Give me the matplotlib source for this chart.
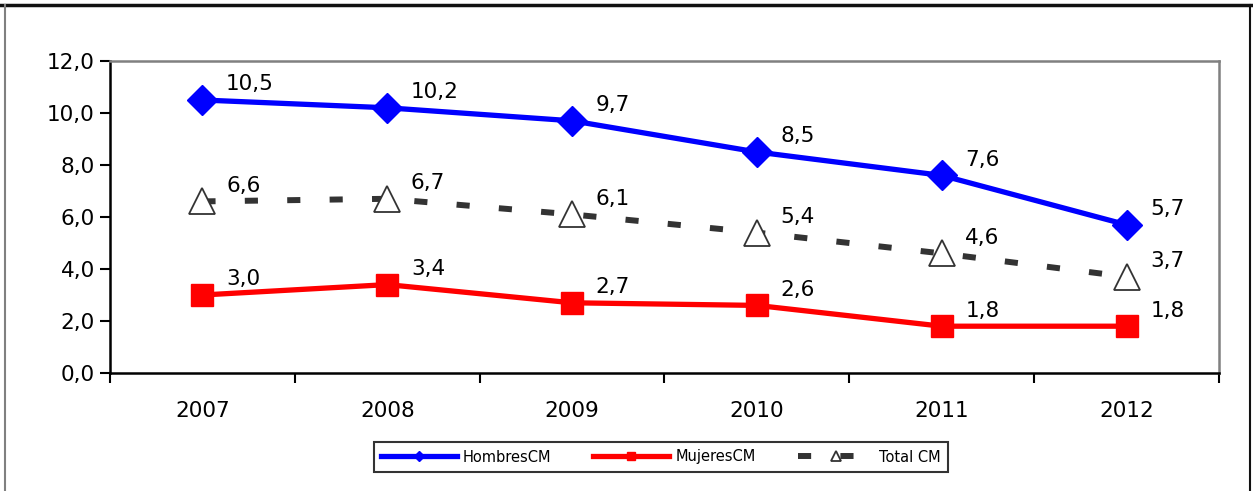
import matplotlib
matplotlib.use("Agg")
import matplotlib.pyplot as plt
from matplotlib.lines import Line2D

years = ["2007", "2008", "2009", "2010", "2011", "2012"]
hombres = [10.5, 10.2, 9.7, 8.5, 7.6, 5.7]
mujeres = [3.0, 3.4, 2.7, 2.6, 1.8, 1.8]
total = [6.6, 6.7, 6.1, 5.4, 4.6, 3.7]
yticks = [0, 2, 4, 6, 8, 10, 12]

plt.rcParams['font.family'] = ['DejaVu Sans']

fig = plt.figure(figsize=(12.53, 4.91), dpi=100)
ax = fig.add_axes([110/1253, 1-373/491, (1219-110)/1253, (373-61)/491])

x = list(range(len(years)))
ax.plot(x, hombres, color='#0000FF', lw=3.8, marker='D', ms=15, mfc='#0000FF',
        mec='#0000FF', label='HombresCM', zorder=3)
ax.plot(x, mujeres, color='#FF0000', lw=3.8, marker='s', ms=16, mfc='#FF0000',
        mec='#FF0000', label='MujeresCM', zorder=3)
ax.plot(x, total, color='#333333', lw=4.3, dashes=(2.2, 4.9), marker='^', ms=19,
        mfc='white', mec='#333333', mew=1.3, label='Total CM', zorder=2)

def fmt(v):
    return f"{v:.1f}".replace('.', ',')

for series in (hombres, mujeres, total):
    for xi, v in zip(x, series):
        ax.annotate(fmt(v), (xi, v), xytext=(17, 4), textcoords='offset points',
                    ha='left', va='bottom', fontsize=15.5, color='black', zorder=5)

ax.set_xlim(-0.5, len(years) - 0.5)
ax.set_ylim(0, 12)
ax.set_yticks(yticks)
ax.set_yticklabels([fmt(v) for v in yticks], fontsize=15.5)
ax.set_xticks(x)
ax.set_xticklabels(years, fontsize=15.5)
ax.set_xticks([i - 0.5 for i in range(len(years) + 1)], minor=True)
ax.tick_params(axis='x', which='major', length=0, pad=20)
ax.tick_params(axis='x', which='minor', length=7, width=1.5, direction='out')
ax.tick_params(axis='y', length=7, width=1.5, direction='out', pad=4)

ax.spines['left'].set_color('black')
ax.spines['left'].set_linewidth(1.8)
ax.spines['bottom'].set_color('black')
ax.spines['bottom'].set_linewidth(1.8)
ax.spines['top'].set_color('#808080')
ax.spines['top'].set_linewidth(1.8)
ax.spines['right'].set_color('#808080')
ax.spines['right'].set_linewidth(1.8)

# outer chart border
fig.add_artist(Line2D([0, 1], [1 - 5/491, 1 - 5/491], color='#111111', lw=2.5,
                      transform=fig.transFigure))
fig.add_artist(Line2D([5/1253, 5/1253], [0, 1 - 5/491], color='#808080', lw=1.5,
                      transform=fig.transFigure))
fig.add_artist(Line2D([1250/1253, 1250/1253], [0, 1 - 5/491], color='#111111', lw=1.5,
                      transform=fig.transFigure))

leg = fig.legend(loc='center', bbox_to_anchor=(661/1253, 1 - 457/491), ncol=3,
                 fontsize=10.5, frameon=True, fancybox=False, edgecolor='black',
                 handlelength=5.2, columnspacing=2.9, borderpad=0.5,
                 handletextpad=0.4, markerscale=0.35)
leg.get_frame().set_linewidth(1.5)

fig.savefig('out.png', dpi=100)
